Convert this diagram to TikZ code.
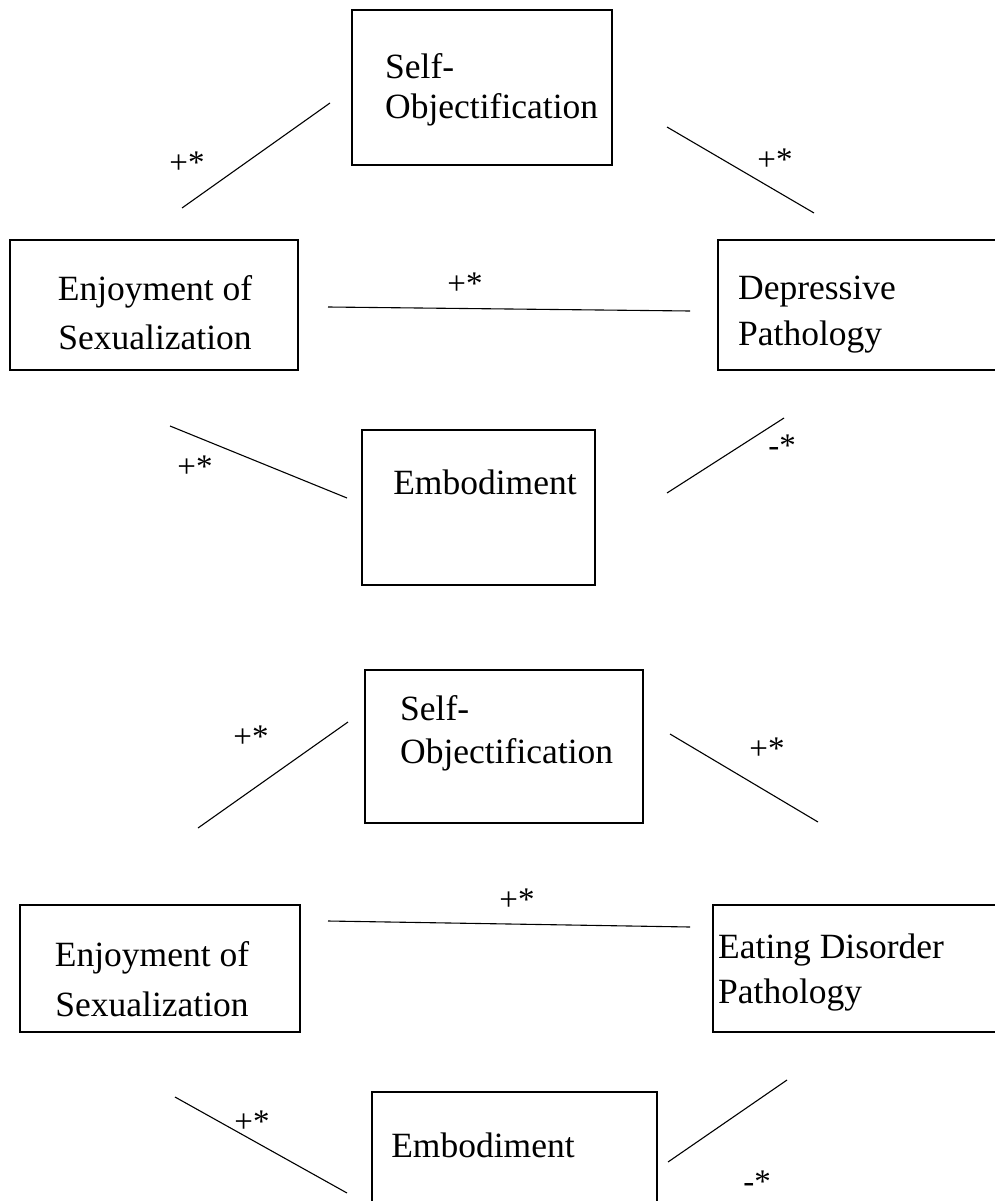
\documentclass[tikz,border=0pt]{standalone}
\usepackage{fontspec}
\setmainfont{Liberation Serif}
\begin{document}
\begin{tikzpicture}[x=1pt,y=-1pt,
  boxst/.style={draw,line width=2.6pt},
  lbl/.style={inner sep=0pt,font=\fontsize{35.5}{42}\selectfont},
  sig/.style={inner sep=0pt,font=\fontsize{33}{40}\selectfont},
  conn/.style={line width=1.1pt}]
\useasboundingbox (0,0) rectangle (995,1201);
\clip (0,0) rectangle (995,1201);
% ---------- top diagram ----------
\draw[boxst] (352,10) rectangle (612,165);
\draw[boxst] (10,240) rectangle (298,370);
\draw[boxst] (718,240) rectangle (1010,370);
\draw[boxst] (362,430) rectangle (595,585);
\node[lbl,anchor=west] (so1a) at (385,66) {Self-};
\node[lbl,anchor=west] (so1b) at (385,110) {Objectification};
\node[lbl] (en1a) at (155,292) {Enjoyment of};
\node[lbl] (en1b) at (155,337) {Sexualization};
\node[lbl,anchor=west] (dp1a) at (738,292) {Depressive};
\node[lbl,anchor=west] (dp1b) at (738,337) {Pathology};
\node[lbl] (em1) at (485,482) {Embodiment};
\coordinate (a1) at (182,208); \coordinate (a2) at (330,103);
\coordinate (b1) at (667,127); \coordinate (b2) at (814,213);
\coordinate (c1) at (328,307); \coordinate (c2) at (690,311);
\coordinate (d1) at (170,426); \coordinate (d2) at (347,498);
\coordinate (e1) at (667,493); \coordinate (e2) at (784,418);
\draw[conn] (a1) -- (a2);
\draw[conn] (b1) -- (b2);
\draw[conn] (c1) -- (c2);
\draw[conn] (d1) -- (d2);
\draw[conn] (e1) -- (e2);
\node[sig] (s1) at (187,163) {+*};
\node[sig] (s2) at (775,160) {+*};
\node[sig] (s3) at (465,284) {+*};
\node[sig] (s4) at (195,467) {+*};
\node[sig] (s5) at (782,446) {-*};
% ---------- bottom diagram ----------
\draw[boxst] (365,670) rectangle (643,823);
\draw[boxst] (20,905) rectangle (300,1032);
\draw[boxst] (713,905) rectangle (1010,1032);
\draw[boxst] (372,1092) rectangle (657,1215);
\node[lbl,anchor=west] (so2a) at (400,708) {Self-};
\node[lbl,anchor=west] (so2b) at (400,755) {Objectification};
\node[lbl] (en2a) at (152,958) {Enjoyment of};
\node[lbl] (en2b) at (152,1004) {Sexualization};
\node[lbl,anchor=west] (ed2a) at (718,950) {Eating Disorder};
\node[lbl,anchor=west] (ed2b) at (718,995) {Pathology};
\node[lbl] (em2) at (483,1145) {Embodiment};
\coordinate (f1) at (198,828); \coordinate (f2) at (348,722);
\coordinate (g1) at (670,734); \coordinate (g2) at (818,822);
\coordinate (h1) at (328,921); \coordinate (h2) at (690,927);
\coordinate (i1) at (175,1097); \coordinate (i2) at (347,1193);
\coordinate (j1) at (668,1162); \coordinate (j2) at (787,1080);
\draw[conn] (f1) -- (f2);
\draw[conn] (g1) -- (g2);
\draw[conn] (h1) -- (h2);
\draw[conn] (i1) -- (i2);
\draw[conn] (j1) -- (j2);
\node[sig] (s6) at (251,737) {+*};
\node[sig] (s7) at (767,749) {+*};
\node[sig] (s8) at (517,900) {+*};
\node[sig] (s9) at (252,1122) {+*};
\node[sig] (s10) at (757,1182) {-*};
\end{tikzpicture}
\end{document}
